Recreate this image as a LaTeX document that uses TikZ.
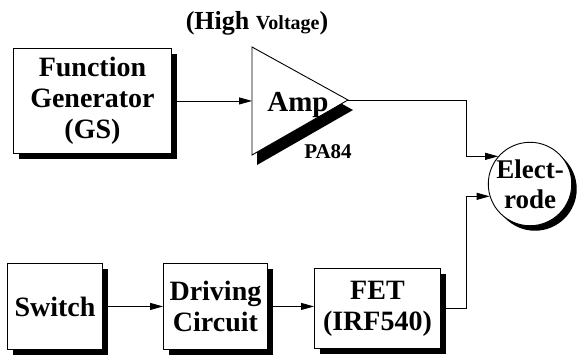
\documentclass[tikz,border=0pt]{standalone}
\usepackage{fontspec}
\setmainfont{Liberation Serif}
\usetikzlibrary{positioning, arrows.meta, shadows, calc}

\begin{document}
\begin{tikzpicture}[
    font=\bfseries\fontsize{28}{31}\selectfont,
    blk/.style 2 args={draw=black, line width=0.9pt, fill=white,
        minimum width=#1, minimum height=#2, align=center, inner sep=1pt,
        drop shadow={shadow xshift=6pt, shadow yshift=-6pt, fill=black, opacity=1}},
    sig/.style={-{Triangle[length=13pt,width=7pt]}, line width=0.8pt},
    tag/.style={font=\bfseries\fontsize{#1}{#1}\selectfont, inner sep=0pt},
  ]
  \useasboundingbox (0pt,0pt) rectangle (580pt,-358pt);
  % upper row
  \node[blk={158pt}{105pt}, anchor=north west] (fungen) at (13pt,-48pt) {Function\\Generator\\(GS)};
  \coordinate (amptop) at (252pt,-47pt);
  \coordinate (ampbot) at (252pt,-155pt);
  \coordinate (amptip) at (348pt,-100pt);
  \path[draw=black, line width=0.9pt, fill=white,
      drop shadow={shadow xshift=5pt, shadow yshift=-10pt, fill=black, opacity=1}]
      (amptop) -- (amptip) -- (ampbot) -- cycle;
  \node[tag=29, anchor=base] (amplbl) at (298pt,-112pt) {Amp};
  \node[tag=21, anchor=base] (ampname) at (328pt,-158pt) {PA84};
  \node[tag=26, anchor=base] (hv) at (257pt,-30pt) {(High {\fontsize{20}{20}\selectfont Voltage})};
  \draw[sig] (fungen.east) -- (amptop |- fungen.east);
  % electrode
  \node[circle, draw=black, line width=0.9pt, fill=white, minimum size=76pt,
      inner sep=0pt, align=center, font=\bfseries\fontsize{27}{30}\selectfont,
      drop shadow={shadow xshift=5pt, shadow yshift=-5pt, fill=black, opacity=1}]
      (elec) at (530pt,-184pt) {Elect-\\rode};
  % lower row
  \node[blk={95pt}{86pt}, anchor=north west] (switch) at (7pt,-263pt) {Switch};
  \node[blk={104pt}{86pt}, anchor=north west] (driver) at (163pt,-263pt) {Driving\\Circuit};
  \node[blk={126pt}{80pt}, anchor=north west] (fet) at (314pt,-268pt) {FET\\(IRF540)};
  \draw[sig] (switch.east) -- (driver.west);
  \draw[sig] (driver.east) -- (driver.east -| fet.west);
  % bus to electrode
  \coordinate (bus) at (466pt,0pt);
  \draw[sig] (amptip) -| (bus |- elec.139) -- (elec.139);
  \draw[sig] (fet.east) -| (bus |- elec.197) -- (elec.197);
\end{tikzpicture}
\end{document}
